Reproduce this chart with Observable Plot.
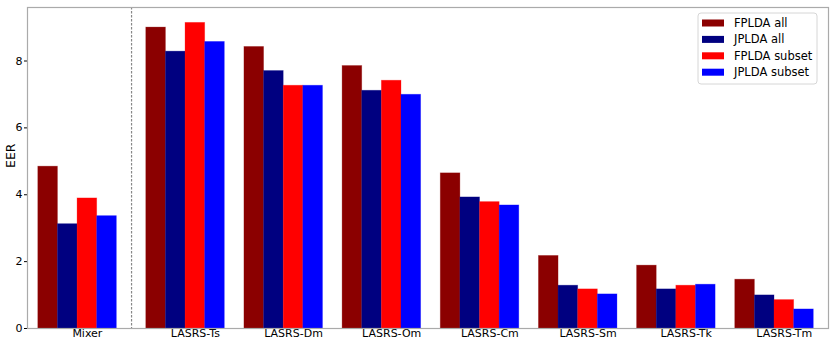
<!DOCTYPE html>
<html>
<head>
<meta charset="utf-8">
<script src="https://cdn.jsdelivr.net/npm/d3@7"></script>
<script src="https://cdn.jsdelivr.net/npm/@observablehq/plot@0.6"></script>
<style>
  html, body { margin: 0; padding: 0; background: #fff; }
  #chart svg { display: block; }
</style>
</head>
<body>
<div id="chart"></div>
<script>
const groups = ["Mixer", "LASRS-Ts", "LASRS-Dm", "LASRS-Om", "LASRS-Cm", "LASRS-Sm", "LASRS-Tk", "LASRS-Tm"];
const series = ["FPLDA all", "JPLDA all", "FPLDA subset", "JPLDA subset"];
const fpldaAll    = [4.84, 9.00, 8.42, 7.85, 4.64, 2.17, 1.88, 1.46];
const jpldaAll    = [3.12, 8.28, 7.70, 7.11, 3.92, 1.28, 1.17, 0.99];
const fpldaSubset = [3.89, 9.14, 7.26, 7.41, 3.78, 1.17, 1.28, 0.85];
const jpldaSubset = [3.36, 8.57, 7.26, 6.99, 3.68, 1.02, 1.31, 0.57];
const yTicks = [0, 2, 4, 6, 8];
const colors = ["#8b0000", "#000080", "#ff0000", "#0000ff"];

const seriesValues = [fpldaAll, jpldaAll, fpldaSubset, jpldaSubset];
const barW = 0.2;
const groupLeft = (i) => (i === 0 ? -0.1 : i);

const rows = [];
groups.forEach((g, gi) => {
  series.forEach((s, si) => {
    const x1 = groupLeft(gi) + si * barW;
    rows.push({group: g, series: s, value: seriesValues[si][gi], x1, x2: x1 + barW});
  });
});
const tickPos = groups.map((g, i) => groupLeft(i) + 0.5);
const sepPos = (groupLeft(0) + 4 * barW + groupLeft(1)) / 2;

const font = "DejaVu Sans, Liberation Sans, sans-serif";

function legend(index, scales, values, dims) {
  const right = dims.width - dims.marginRight - 11;
  const top = dims.marginTop + 6;
  const w = 119, h = 71;
  const g = d3.create("svg:g");
  g.append("rect")
    .attr("x", right - w).attr("y", top).attr("width", w).attr("height", h)
    .attr("rx", 3).attr("fill", "white").attr("fill-opacity", 0.9)
    .attr("stroke", "#d6d6d6");
  series.forEach((s, i) => {
    const cy = top + 10 + i * 16.4;
    g.append("rect")
      .attr("x", right - w + 4).attr("y", cy - 3.5).attr("width", 22).attr("height", 7)
      .attr("fill", colors[i]);
    g.append("text")
      .attr("x", right - w + 36).attr("y", cy).attr("dy", "0.35em")
      .attr("text-anchor", "start")
      .attr("font-size", 11.5).attr("font-family", font).attr("fill", "black")
      .text(s);
  });
  return g.node();
}

const chart = Plot.plot({
  width: 830,
  height: 346,
  marginLeft: 27,
  marginRight: 2,
  marginTop: 7,
  marginBottom: 18,
  style: {fontFamily: font, fontSize: "11px", color: "black", background: "white"},
  x: {domain: [-0.21, 7.95], axis: null},
  y: {domain: [0, 9.6], ticks: yTicks, tickSize: 3, tickPadding: 2, label: null},
  color: {domain: series, range: colors},
  marks: [
    Plot.rectY(rows, {x1: "x1", x2: "x2", y: "value", fill: "series", stroke: "series", strokeOpacity: 0.35, strokeWidth: 0.8}),
    Plot.ruleX([sepPos], {stroke: "#888", strokeDasharray: "2.5,1.5", strokeWidth: 1.2}),
    Plot.text(groups, {x: (d, i) => tickPos[i], frameAnchor: "bottom", dy: 8, text: d => d, fill: "black", fontSize: 11}),
    Plot.text(["EER"], {frameAnchor: "left", dx: -17, rotate: -90, text: d => d, fill: "black", fontSize: 12.5}),
    Plot.frame({stroke: "#aaa", strokeWidth: 1.2}),
    legend
  ]
});
document.getElementById("chart").append(chart);
</script>
</body>
</html>
